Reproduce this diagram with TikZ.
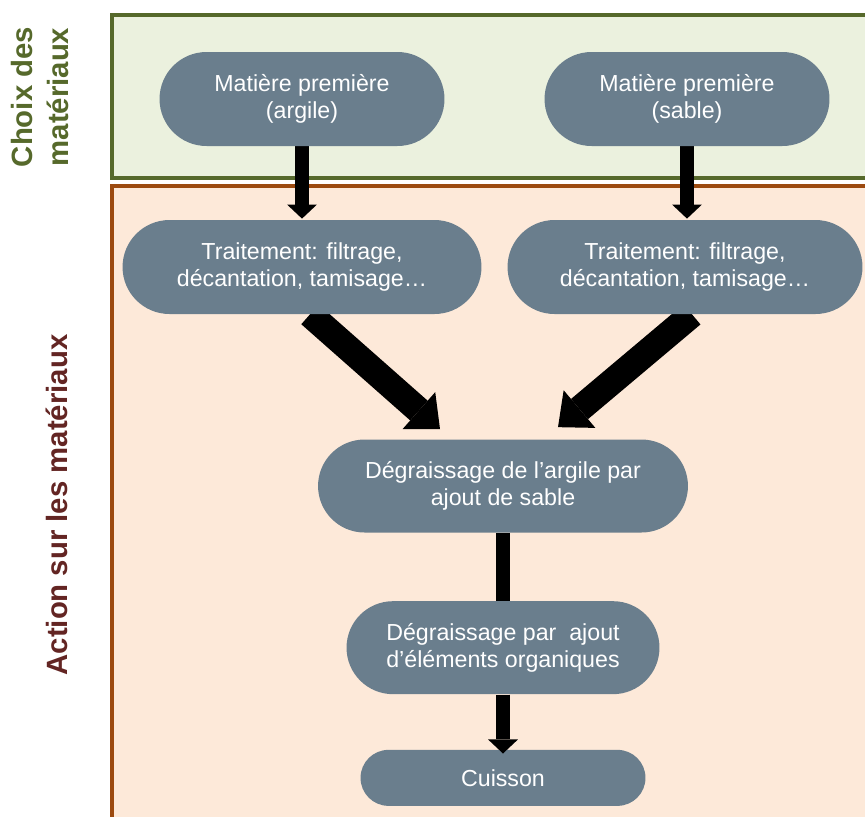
\documentclass[tikz,border=0pt]{standalone}
\usepackage{fontspec}
\setmainfont{Liberation Sans}
\usetikzlibrary{shapes.misc,arrows.meta,positioning}

\pgfdeclarelayer{back}
\pgfdeclarelayer{arr}
\pgfsetlayers{back,arr,main}

\definecolor{slate}{HTML}{6A7E8D}
\definecolor{olivefill}{HTML}{EBF1DE}
\definecolor{olivedark}{HTML}{56692B}
\definecolor{peachfill}{HTML}{FDE9D9}
\definecolor{rustline}{HTML}{9C4A10}
\definecolor{darkred}{HTML}{632523}

\begin{document}
\begin{tikzpicture}[x=0.02cm,y=-0.02cm,
  pill/.style={rounded rectangle,fill=slate,text=white,align=center,inner sep=0pt,
    minimum height=1.88cm,font=\fontsize{13.2}{15.4}\selectfont},
  sidelabel/.style={rotate=90,align=center,font=\bfseries\fontsize{16.7}{20.5}\selectfont},
  smallarrow/.style={line width=7.5pt,-{Triangle[width=17pt,length=8pt,line width=0pt]}},
  bigarrow/.style={line width=15pt,-{Triangle[width=28pt,length=16pt,line width=0pt]}}]
\useasboundingbox (0,0) rectangle (865,816);

\node[pill,minimum width=5.7cm](m1) at (302,99) {Matière première\\(argile)};
\node[pill,minimum width=5.7cm](m2) at (687,99) {Matière première\\(sable)};
\node[pill,minimum width=7.18cm](t1) at (302,267) {Traitement: filtrage,\\décantation, tamisage…};
\node[pill,minimum width=7.1cm](t2) at (685,267) {Traitement: filtrage,\\décantation, tamisage…};
\node[pill,minimum width=7.4cm,minimum height=1.86cm](d1) at (503,486) {Dégraissage de l’argile par\\ajout de sable};
\node[pill,minimum width=6.26cm,minimum height=1.86cm](d2)[below=1.36cm of d1] {Dégraissage par~ ajout\\d’éléments organiques};
\node[pill,minimum width=5.7cm,minimum height=1.12cm](c)[below=1.1cm of d2] {Cuisson};

\node[sidelabel,text=olivedark](choix) at (40,97) {Choix des\\matériaux};
\node[sidelabel,text=darkred](action) at (57,505) {Action sur les matériaux};

% panels
\begin{pgfonlayer}{back}
\filldraw[fill=olivefill,draw=olivedark,line width=2.2pt] (112,15) rectangle (885,178);
\filldraw[fill=peachfill,draw=rustline,line width=2.2pt] (112,186) rectangle (885,835);
\end{pgfonlayer}

% arrows
\begin{pgfonlayer}{arr}
\draw[smallarrow,shorten >=0.6pt] (m1.south) -- (t1.north);
\draw[smallarrow,shorten >=0.6pt] (m2.south) -- (m2.south |- t2.north);
\draw[bigarrow] ([xshift=0.16cm]t1.south) -- ([xshift=-1.26cm,yshift=0.2cm]d1.north);
\draw[bigarrow] ([xshift=0.14cm]t2.south) -- ([xshift=1.1cm,yshift=0.24cm]d1.north);
\draw[line width=8.5pt] (d1.south) -- (d2.north);
\end{pgfonlayer}
\draw[smallarrow] (d2.south) -- ([yshift=-0.08cm]c.north);
\end{tikzpicture}
\end{document}
